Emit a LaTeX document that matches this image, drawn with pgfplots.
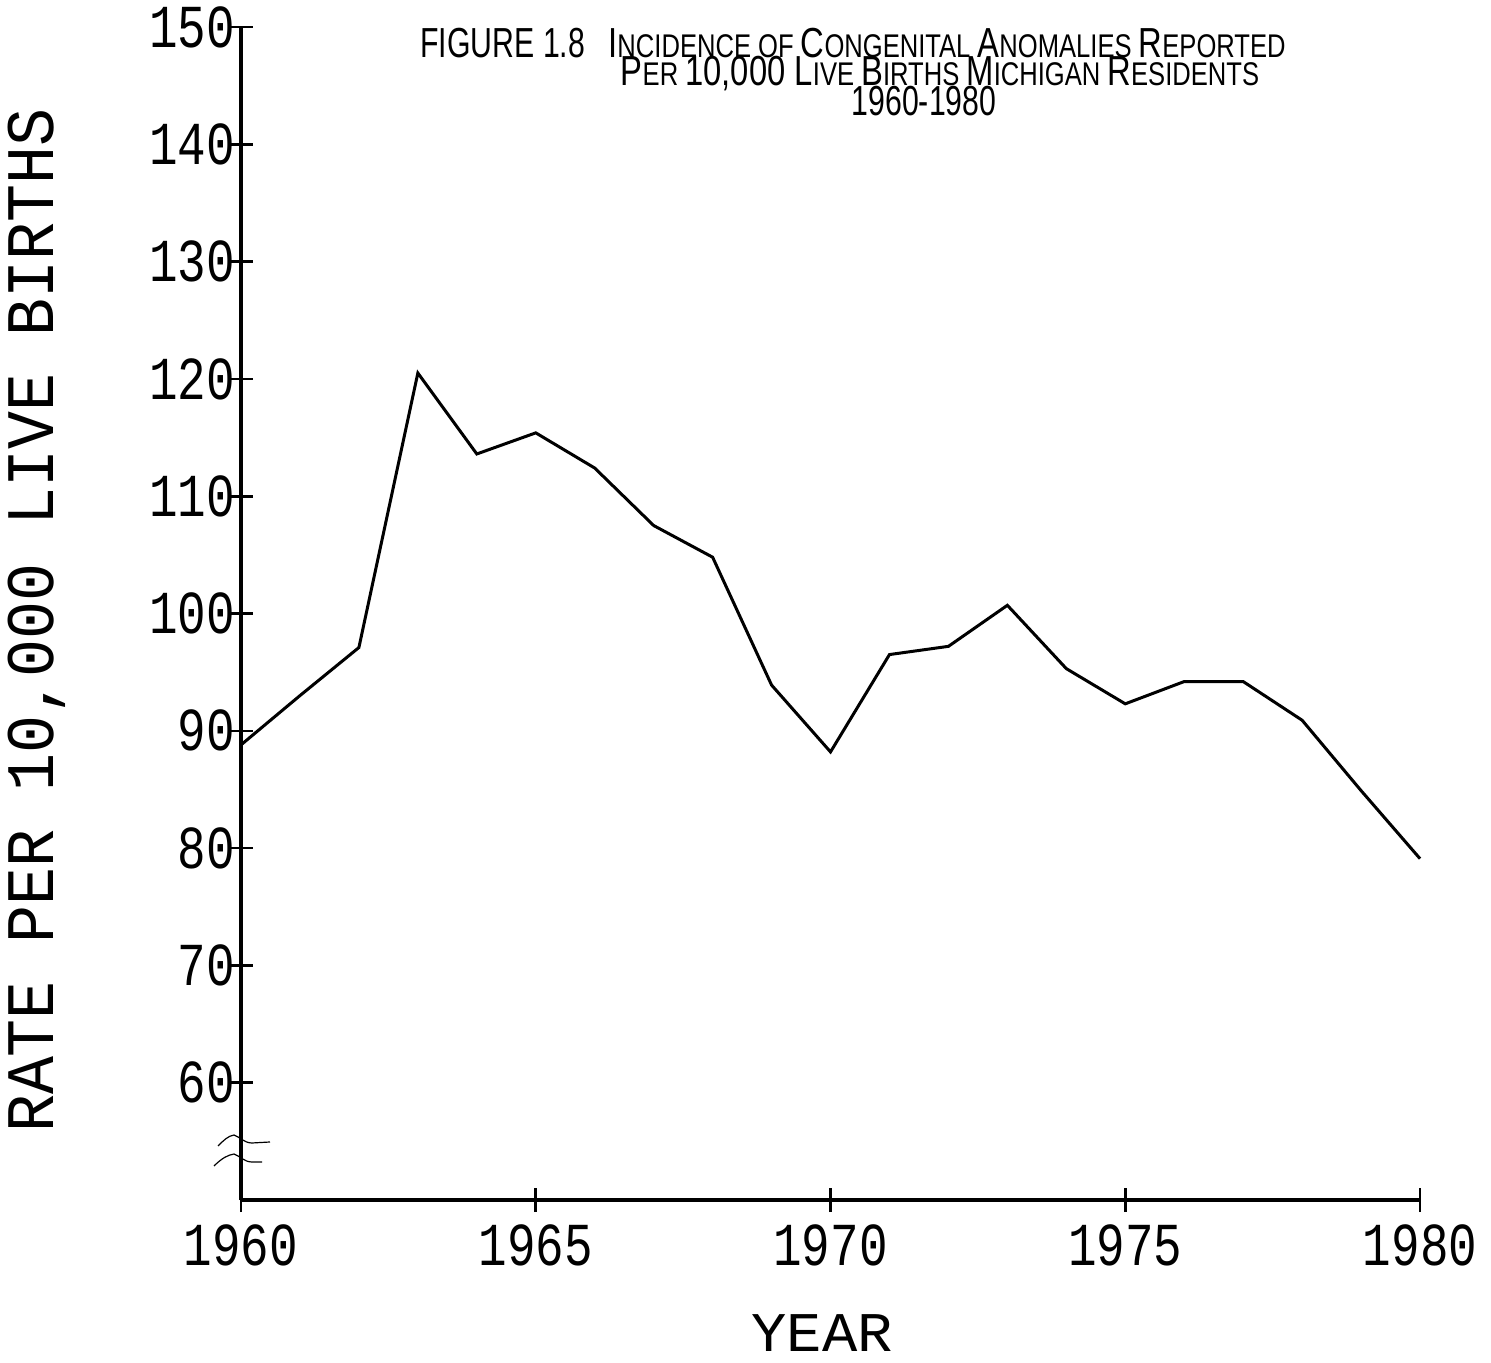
\documentclass[border=0pt]{standalone}
\usepackage{fontspec}
\usepackage{pgfplots}
\pgfplotsset{compat=1.18}
\setmainfont{Liberation Sans}
\newfontfamily\tickfont[FakeStretch=0.78]{Liberation Mono}
\newfontfamily\ylabfont[FakeStretch=0.93]{Liberation Mono}
\newfontfamily\xlabfont[FakeStretch=1.05]{Liberation Mono}
\newfontfamily\figfont[FakeStretch=0.72]{Liberation Sans}
\newfontfamily\titlefont[FakeStretch=0.78]{Liberation Sans}
% hand-made small capitals for the heading
\newcommand\Cap[1]{{\fontsize{21bp}{21bp}\selectfont #1}}
\newcommand\Sm[1]{{\fontsize{16.4bp}{16.4bp}\selectfont #1}}

\begin{document}
\begin{tikzpicture}
\begin{axis}[
  at={(0,0)}, anchor=south west,
  scale only axis,
  width=589.5bp, height=586.5bp,
  xmin=1960, xmax=1980, ymin=50, ymax=150,
  axis lines=left,
  axis line style={-, line width=2bp},
  xtick={1960,1965,1970,1975,1980},
  ytick={60,70,80,90,100,110,120,130,140,150},
  tick align=center,
  major tick length=12bp,
  tick style={line width=1.3bp, black},
  x tick label style={/pgf/number format/1000 sep={}},
  /pgf/number format/assume math mode=true,
  ticklabel style={font=\tickfont\fontsize{30.5bp}{30.5bp}\selectfont},
  xticklabel style={yshift=-3bp},
  yticklabel style={xshift=6.5bp},
  xlabel={YEAR},
  ylabel={RATE PER 10,000 LIVE BIRTHS},
  every axis x label/.style={at={(rel axis cs:0.493,0)}, anchor=center,
    inner sep=0pt, yshift=-66.5bp, font=\xlabfont\fontsize{28bp}{28bp}\selectfont},
  every axis y label/.style={at={(rel axis cs:0,0.494)}, anchor=center,
    inner sep=0pt, xshift=-102bp, rotate=90,
    font=\ylabfont\fontsize{34bp}{34bp}\selectfont},
  clip=false,
]
\addplot[black, line width=1.5bp, line join=miter] coordinates {
  (1960,88.8) (1961,93.0) (1962,97.1) (1963,120.5) (1964,113.6)
  (1965,115.4) (1966,112.4) (1967,107.5) (1968,104.8) (1969,93.9)
  (1970,88.2) (1971,96.5) (1972,97.2) (1973,100.7) (1974,95.3)
  (1975,92.3) (1976,94.2) (1977,94.2) (1978,90.9) (1979,84.9)
  (1980,79.1)
};
\end{axis}
% heading and axis-break marks, placed in page pixels
\begin{scope}[x=0.5bp, y=-0.5bp, shift={(-120.5bp,600bp)}]
  \node[anchor=base west, inner sep=0] at (420,58)
    {\figfont\Cap{FIGURE 1.8}};
  \node[anchor=base, inner sep=0] at (947,58)
    {\titlefont\Cap{I}\Sm{NCIDENCE OF }\Cap{C}\Sm{ONGENITAL }\Cap{A}\Sm{NOMALIES }\Cap{R}\Sm{EPORTED}};
  \node[anchor=base, inner sep=0] at (940,86)
    {\titlefont\Cap{P}\Sm{ER }\Cap{10,000 L}\Sm{IVE }\Cap{B}\Sm{IRTHS }\Cap{M}\Sm{ICHIGAN }\Cap{R}\Sm{ESIDENTS}};
  \node[anchor=base, inner sep=0] at (924,116)
    {\figfont\Cap{1960-1980}};
  \draw[line width=0.6bp] (218,1146) .. controls (224,1140) and (228,1136) .. (234,1135)
        .. controls (240,1137) and (244,1143) .. (252,1143) -- (270,1142);
  \draw[line width=0.6bp] (214,1166) .. controls (222,1158) and (228,1155) .. (234,1154)
        .. controls (240,1156) and (244,1162) .. (252,1162) -- (262,1162);
  \pgfresetboundingbox
  \path[use as bounding box] (0,0) rectangle (1491,1363);
\end{scope}
\end{tikzpicture}
\end{document}
